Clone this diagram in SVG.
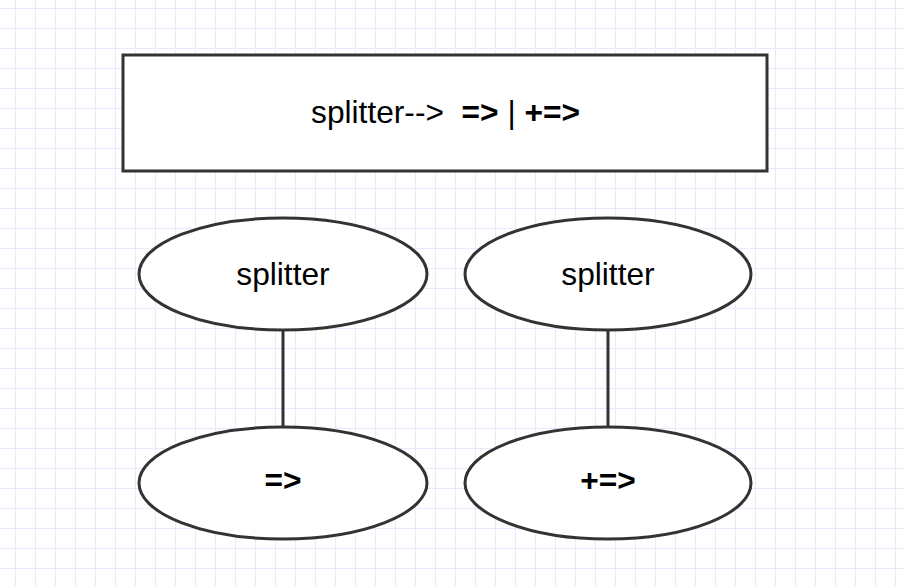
<svg xmlns="http://www.w3.org/2000/svg" width="905" height="586" viewBox="0 0 905 586">
<defs>
<pattern id="minor" x="15" y="8" width="20" height="20" patternUnits="userSpaceOnUse">
<path d="M0 0H20M0 0V20" fill="none" stroke="#ebe8fb" stroke-width="2"/>
</pattern>
<style>
.shape{fill:#fff;stroke:#333;stroke-width:3}
.edge{stroke:#333;stroke-width:3;fill:none}
text{font-family:"Liberation Sans",Arial,sans-serif;font-size:31.7px;fill:#000}
.b{font-weight:bold}
</style>
</defs>
<rect width="905" height="586" fill="#fff"/>
<rect width="905" height="586" fill="url(#minor)"/>
<g id="connectors">
<line class="edge" x1="283" y1="330" x2="283" y2="427"/>
<line class="edge" x1="608" y1="330" x2="608" y2="427"/>
</g>
<g id="header">
<rect class="shape" x="123" y="55" width="644" height="116"/>
<text x="445.5" y="123" text-anchor="middle" xml:space="preserve">splitter-->  <tspan class="b">=></tspan> | <tspan class="b">+=></tspan></text>
</g>
<g id="splitter1">
<ellipse class="shape" cx="283" cy="274" rx="144" ry="56"/>
<text x="283" y="285" text-anchor="middle">splitter</text>
</g>
<g id="splitter2">
<ellipse class="shape" cx="608" cy="274" rx="143" ry="56"/>
<text x="608" y="285" text-anchor="middle">splitter</text>
</g>
<g id="op1">
<ellipse class="shape" cx="283" cy="483" rx="144" ry="56"/>
<text class="b" x="283" y="491" text-anchor="middle">=></text>
</g>
<g id="op2">
<ellipse class="shape" cx="608" cy="483" rx="143" ry="56"/>
<text class="b" x="608" y="491" text-anchor="middle">+=></text>
</g>
</svg>
